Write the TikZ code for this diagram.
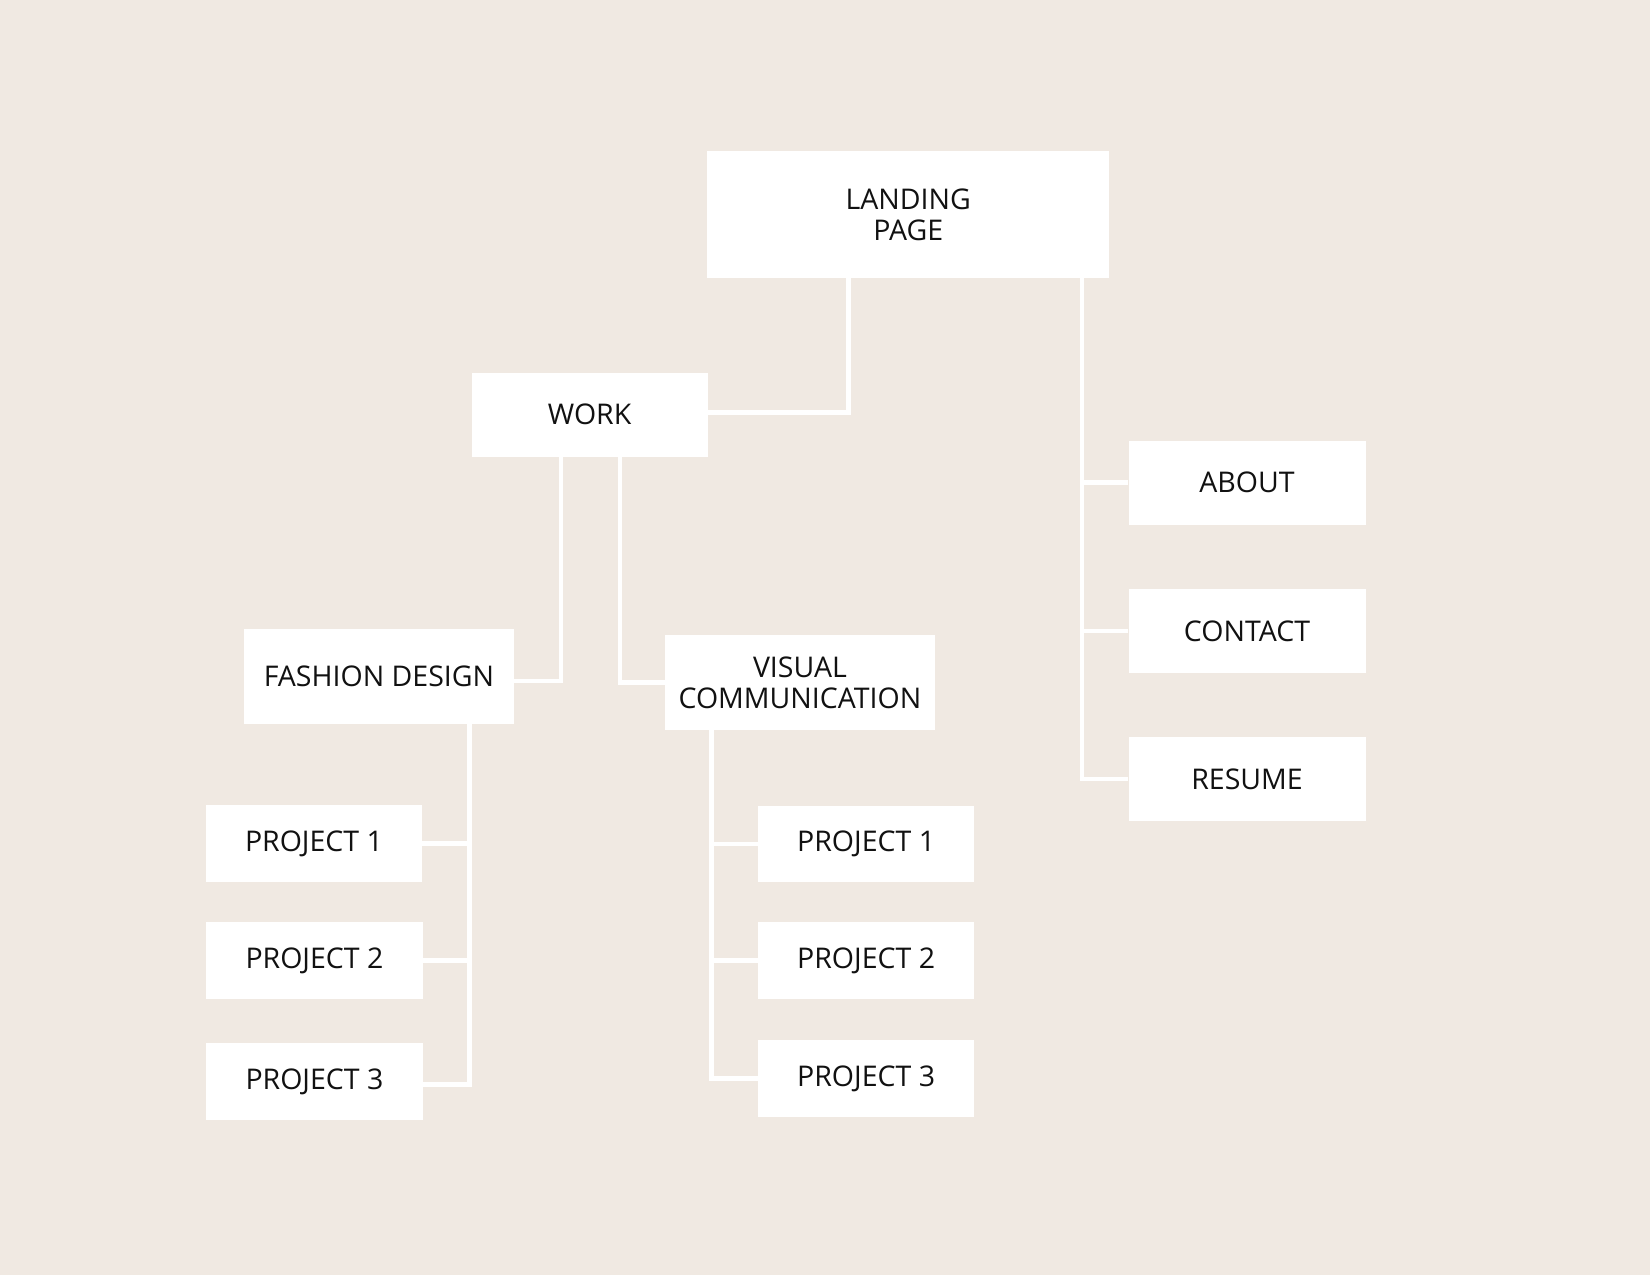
\documentclass[tikz,border=0pt]{standalone}
\usepackage{fontspec}
\setmainfont{Open Sans}
\definecolor{bg}{HTML}{F0E9E2}
\definecolor{ink}{HTML}{111111}
\tikzset{
  box/.style={fill=white, draw=none, inner sep=0pt, align=center, text=ink,
    font=\fontsize{28.5}{31}\selectfont, anchor=north west},
  link/.style={draw=white, line width=4.5pt, line join=miter}
}
\begin{document}
\begin{tikzpicture}[x=1pt,y=-1pt]
\fill[bg] (0,0) rectangle (1650,1275);
\useasboundingbox (0,0) rectangle (1650,1275);

\coordinate (lw) at (848.5,270);
\coordinate (lr) at (1081.8,270);
\coordinate (wa) at (561,450);
\coordinate (wb) at (620,450);
\coordinate (fa) at (469.3,720);
\coordinate (va) at (711.4,725);

% boxes
\node[box, minimum width=402pt, minimum height=127.5pt] (landing) at (707,150.5) {LANDING\\PAGE};
\node[box, minimum width=236pt, minimum height=84pt] (work) at (471.4,372.5) {WORK};
\node[box, minimum width=237pt, minimum height=84pt] (about) at (1128.3,440.5) {ABOUT};
\node[box, minimum width=237pt, minimum height=84pt] (contact) at (1128.3,589) {CONTACT};
\node[box, minimum width=237pt, minimum height=84pt] (resume) at (1128.3,737) {RESUME};
\node[box, minimum width=269.5pt, minimum height=95pt] (fd) at (244,629) {FASHION DESIGN};
\node[box, minimum width=269.5pt, minimum height=95.5pt] (vc) at (665,634.5) {VISUAL\\COMMUNICATION};
\node[box, minimum width=216.5pt, minimum height=77pt] (fp1) at (205.5,805) {PROJECT 1};
\node[box, minimum width=216.5pt, minimum height=77pt] (fp2) at (206,922) {PROJECT 2};
\node[box, minimum width=216.5pt, minimum height=77pt] (fp3) at (206,1043) {PROJECT 3};
\node[box, minimum width=216.5pt, minimum height=76pt] (vp1) at (757.7,806) {PROJECT 1};
\node[box, minimum width=216.5pt, minimum height=77pt] (vp2) at (757.7,922) {PROJECT 2};
\node[box, minimum width=216.5pt, minimum height=77pt] (vp3) at (757.7,1039.7) {PROJECT 3};

% connectors
\draw[link] (lw) |- ([yshift=2pt]work.east);
\draw[link] (lr) |- (resume.west);
\draw[link] (lr |- about.west) -- (about.west);
\draw[link] (lr |- contact.west) -- (contact.west);
\draw[link] (wa) |- ([yshift=-4.5pt]fd.east);
\draw[link] (wb) |- (vc.west);
\draw[link] (fa) |- ([yshift=-3pt]fp3.east);
\draw[link] (fa |- fp1.east) -- (fp1.east);
\draw[link] (fa |- fp2.east) -- (fp2.east);
\draw[link] (va) |- (vp3.west);
\draw[link] (va |- vp1.west) -- (vp1.west);
\draw[link] (va |- vp2.west) -- (vp2.west);
\end{tikzpicture}
\end{document}
